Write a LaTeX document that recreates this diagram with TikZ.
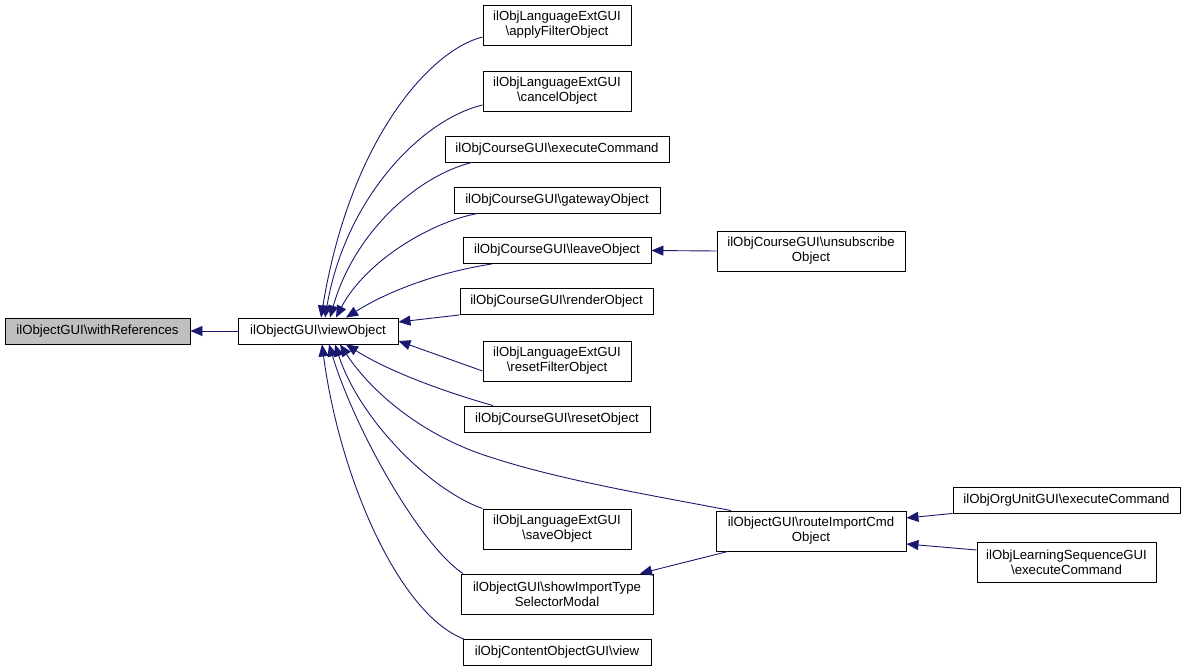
\documentclass[tikz,border=0pt]{standalone}
\usepackage{fontspec}
\setmainfont{Liberation Sans}
\usetikzlibrary{arrows.meta}
\definecolor{edgeblue}{HTML}{191970}
\definecolor{hlgray}{HTML}{BFBFBF}
\tikzset{
  fn/.style={draw=black, line width=0.9pt, fill=white, inner sep=0pt, align=center,
    font=\fontsize{13.2}{15}\selectfont, minimum height=26pt},
  fn2/.style={fn, minimum height=40pt},
  call/.style={draw=edgeblue, line width=0.9pt, -{Triangle[length=12pt,width=10pt]}},
}
\begin{document}
\begin{tikzpicture}[x=1pt,y=-1pt]
\useasboundingbox (0,0) rectangle (1185,671);
% nodes
\node[fn, fill=hlgray, minimum width=185pt] (wr) at (97.5,331) {ilObjectGUI\textbackslash withReferences};
\node[fn, minimum width=160pt] (vo) at (318,331) {ilObjectGUI\textbackslash viewObject};
\node[fn2, minimum width=148pt] (apply) at (557,25) {ilObjLanguageExtGUI\\\textbackslash applyFilterObject};
\node[fn2, minimum width=148pt] (cancel) at (557,91) {ilObjLanguageExtGUI\\\textbackslash cancelObject};
\node[fn, minimum width=224pt] (cexec) at (557,149) {ilObjCourseGUI\textbackslash executeCommand};
\node[fn, minimum width=206pt] (gateway) at (557,200) {ilObjCourseGUI\textbackslash gatewayObject};
\node[fn, minimum width=188pt] (leave) at (557,250.5) {ilObjCourseGUI\textbackslash leaveObject};
\node[fn, minimum width=193pt] (render) at (556.5,301.5) {ilObjCourseGUI\textbackslash renderObject};
\node[fn2, minimum width=148pt] (resetF) at (557,361) {ilObjLanguageExtGUI\\\textbackslash resetFilterObject};
\node[fn, minimum width=186pt] (resetO) at (557,419) {ilObjCourseGUI\textbackslash resetObject};
\node[fn2, minimum width=148pt] (save) at (557,529) {ilObjLanguageExtGUI\\\textbackslash saveObject};
\node[fn2, minimum width=192pt] (show) at (557,594) {ilObjectGUI\textbackslash showImportType\\SelectorModal};
\node[fn, minimum width=188pt] (view) at (557,652.5) {ilObjContentObjectGUI\textbackslash view};
\node[fn2, minimum width=188pt] (unsub) at (811,251) {ilObjCourseGUI\textbackslash unsubscribe\\Object};
\node[fn2, minimum width=190pt] (route) at (811,531) {ilObjectGUI\textbackslash routeImportCmd\\Object};
\node[fn, minimum width=227pt] (org) at (1066.5,500) {ilObjOrgUnitGUI\textbackslash executeCommand};
\node[fn2, minimum width=179pt] (ls) at (1066.5,562) {ilObjLearningSequenceGUI\\\textbackslash executeCommand};
% edges
\draw[call] (vo.west) -- (wr.east);
\draw[call] ([yshift=-12pt]apply.west) .. controls (430,50) and (350,140) .. ([xshift=3pt]vo.north);
\draw[call] ([yshift=-14pt]cancel.west) .. controls (420,120) and (345,200) .. ([xshift=7pt]vo.north);
\draw[call] ([xshift=-85pt]cexec.south) .. controls (420,175) and (355,230) .. ([xshift=12pt]vo.north);
\draw[call] ([xshift=-79pt]gateway.south) .. controls (430,222) and (365,262) .. ([xshift=18pt]vo.north);
\draw[call] ([xshift=-65pt]leave.south) .. controls (440,272) and (390,290) .. ([xshift=28pt]vo.north);
\draw[call] (render.south west) -- ([yshift=9pt]vo.east);
\draw[call] ([yshift=-10pt]resetF.west) -- ([yshift=-10pt]vo.east);
\draw[call] ([xshift=-64pt]resetO.north) .. controls (445,392) and (390,372) .. ([xshift=28pt]vo.south);
\coordinate (rmid) at (490,457);
\draw[call] ([xshift=-80pt]route.north) .. controls (650,495) and (560,480) .. (rmid) .. controls (420,435) and (370,390) .. ([xshift=22pt]vo.south);
\draw[call] (save.north west) .. controls (430,490) and (360,420) .. ([xshift=17pt]vo.south);
\draw[call] ([xshift=-94pt]show.north) .. controls (420,545) and (355,430) .. ([xshift=11pt]vo.south);
\draw[call] ([xshift=-93pt]view.north) .. controls (400,615) and (340,480) .. ([xshift=4pt]vo.south);
\draw[call] ([xshift=-83pt]route.south) -- ([xshift=83pt]show.north);
\draw[call] (unsub.west) -- (leave.east);
\draw[call] (org.south west) -- ([yshift=13pt]route.east);
\draw[call] ([yshift=12pt]ls.west) -- ([yshift=-13pt]route.east);
\end{tikzpicture}
\end{document}
